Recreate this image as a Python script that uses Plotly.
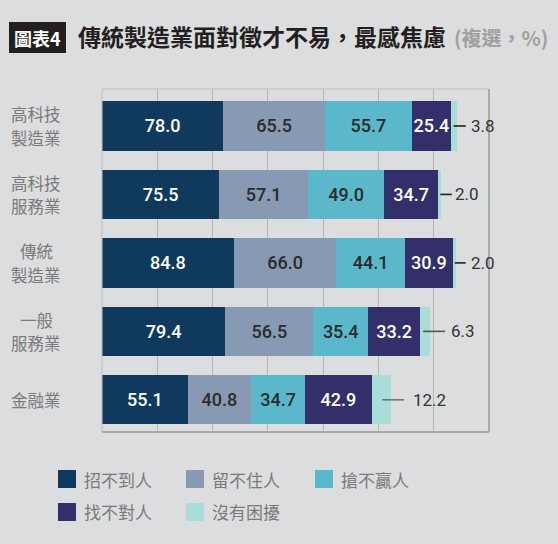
import plotly.graph_objects as go

categories = ["高科技<br>製造業", "高科技<br>服務業", "傳統<br>製造業", "一般<br>服務業", "金融業"]
series_names = ["招不到人", "留不住人", "搶不贏人", "找不對人", "沒有困擾"]
s1 = [78.0, 75.5, 84.8, 79.4, 55.1]
s2 = [65.5, 57.1, 66.0, 56.5, 40.8]
s3 = [55.7, 49.0, 44.1, 35.4, 34.7]
s4 = [25.4, 34.7, 30.9, 33.2, 42.9]
s5 = [3.8, 2.0, 2.0, 6.3, 12.2]

colors = ["#0f3a5e", "#8899b4", "#5bb8cb", "#332f6b", "#a9ddd8"]
text_colors = ["#ffffff", "#2b2b2b", "#2b2b2b", "#ffffff", "#2b2b2b"]
BG = "#dcdddf"

# layout geometry (pixels)
W, H = 558, 544
L, R, T, B = 102, 69, 89, 112
PW = W - L - R
PH = H - T - B
XMAX = 249.0
PXU = PW / XMAX

def px(x):
    return (x - L) / PW

def py(y):
    return (H - B - y) / PH

ypos = list(range(len(categories)))
series = [s1, s2, s3, s4, s5]

fig = go.Figure()
for i, (name, vals) in enumerate(zip(series_names, series)):
    show_text = i < 4
    fig.add_trace(go.Bar(
        y=ypos, x=vals, name=name, orientation="h",
        marker=dict(color=colors[i], line=dict(width=0)),
        text=[f"{v:.1f}" for v in vals] if show_text else None,
        textposition="inside" if show_text else "none",
        insidetextanchor="middle",
        textangle=0,
        constraintext="none",
        textfont=dict(family="Roboto", size=18, color=text_colors[i], weight=500),
        width=0.72,
        showlegend=False,
        hoverinfo="x+name",
    ))

totals = [a + b + c + d + e for a, b, c, d, e in zip(s1, s2, s3, s4, s5)]

# leader lines (pixel offsets from bar end) for the last series
lead_start = [-3.5, -1.0, -1.3, -6.5, -8.5]
lead_end = [8.8, 10.5, 9.7, 15.5, 13.5]
lead_text = [12.0, 11.5, 13.0, 19.5, 20.0]
lead_color = ["#222222", "#222222", "#222222", "#555555", "#777777"]

shapes = []
annotations = []
for k, tot in enumerate(totals):
    shapes.append(dict(type="line", xref="x", yref="y",
                       x0=tot + lead_start[k] / PXU, x1=tot + lead_end[k] / PXU,
                       y0=ypos[k], y1=ypos[k],
                       line=dict(color=lead_color[k], width=1.6), layer="above"))
    annotations.append(dict(xref="x", yref="y", x=tot + lead_text[k] / PXU, y=ypos[k],
                            text=f"{s5[k]:.1f}", showarrow=False, xanchor="left",
                            font=dict(family="Roboto", size=17, color="#333333")))

# category labels (centered, one annotation per line)
for k, c in enumerate(categories):
    lines = c.split("<br>")
    n = len(lines)
    for j, ln in enumerate(lines):
        shift = (n - 1) * 11.75 - j * 23.5
        annotations.append(dict(xref="paper", yref="y", x=px(36), y=ypos[k], text=ln,
                                showarrow=False, xanchor="center", yanchor="middle",
                                yshift=shift, borderpad=0,
                                font=dict(family="Noto Sans CJK TC", size=16.5, color="#7a7a7a")))

# plot frame
shapes += [
    dict(type="line", xref="paper", yref="paper", x0=0, x1=1, y0=1, y1=1,
         line=dict(color="#bdbdbd", width=1)),
    dict(type="line", xref="paper", yref="paper", x0=0, x1=0, y0=0, y1=1,
         line=dict(color="#bdbdbd", width=1)),
    dict(type="line", xref="paper", yref="paper", x0=1, x1=1, y0=0, y1=1,
         line=dict(color="#aaaaaa", width=2)),
    dict(type="line", xref="paper", yref="paper", x0=0, x1=1, y0=0, y1=0,
         line=dict(color="#aaaaaa", width=2)),
]

# title
shapes.append(dict(type="rect", xref="paper", yref="paper",
                   x0=px(9), x1=px(66), y0=py(53), y1=py(22),
                   fillcolor="#231f20", line=dict(width=0)))
annotations.append(dict(xref="paper", yref="paper", x=px(37.5), y=py(37.5), text="圖表4",
                        showarrow=False, xanchor="center", yanchor="middle",
                        font=dict(family="Noto Sans CJK TC", size=18, color="#ffffff", weight=700)))
annotations.append(dict(xref="paper", yref="paper", x=px(76), y=py(36.5),
                        text="傳統製造業面對徵才不易，最感焦慮",
                        showarrow=False, xanchor="left", yanchor="middle",
                        font=dict(family="Noto Sans CJK TC", size=23, color="#231f20", weight=700)))
annotations.append(dict(xref="paper", yref="paper", x=px(452), y=py(37),
                        text="(複選，%)",
                        showarrow=False, xanchor="left", yanchor="middle",
                        font=dict(family="Noto Sans CJK TC", size=20, color="#a0a0a0", weight=700)))

# legend (manual)
leg_x = [58, 186, 315, 58, 186]
leg_y = [479, 479, 479, 512, 512]
for i, name in enumerate(series_names):
    shapes.append(dict(type="rect", xref="paper", yref="paper",
                       x0=px(leg_x[i]), x1=px(leg_x[i] + 18),
                       y0=py(leg_y[i] + 9), y1=py(leg_y[i] - 9),
                       fillcolor=colors[i], line=dict(width=0)))
    annotations.append(dict(xref="paper", yref="paper", x=px(leg_x[i] + 24), y=py(leg_y[i]),
                            text=name, showarrow=False, xanchor="left", yanchor="middle",
                            font=dict(family="Noto Sans CJK TC", size=17, color="#7a7a7a")))

fig.update_layout(
    barmode="stack",
    width=W, height=H,
    margin=dict(l=L, r=R, t=T, b=B, pad=0),
    paper_bgcolor=BG, plot_bgcolor=BG,
    xaxis=dict(range=[0, XMAX], tick0=0, dtick=XMAX / 7, showticklabels=False,
               showgrid=True, gridcolor="#b4b4b4", gridwidth=1, zeroline=False,
               showline=False, fixedrange=True),
    yaxis=dict(range=[4.47, -0.54], showticklabels=False, showgrid=False,
               zeroline=False, showline=False, fixedrange=True),
    shapes=shapes,
    annotations=annotations,
    showlegend=False,
    bargap=0.28,
)

fig.write_html("out.html")
